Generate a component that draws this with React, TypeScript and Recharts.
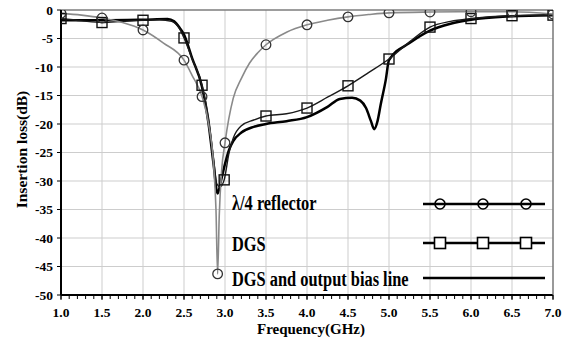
import React from 'react';
import { ComposedChart, Line, Scatter, XAxis, YAxis, CartesianGrid, Label } from 'recharts';

// ---- axis ticks ----
const majorFreqTicks = [1.0, 1.5, 2.0, 2.5, 3.0, 3.5, 4.0, 4.5, 5.0, 5.5, 6.0, 6.5, 7.0];
const xTickLabels = ['1.0', '1.5', '2.0', '2.5', '3.0', '3.5', '4.0', '4.5', '5.0', '5.5', '6.0', '6.5', '7.0'];
const minorFreqTicks = Array.from({ length: 61 }, (_, i) => Math.round(10 + i) / 10);
const lossTicks = [0, -5, -10, -15, -20, -25, -30, -35, -40, -45, -50];
const yTickLabels = ['0', '-5', '-10', '-15', '-20', '-25', '-30', '-35', '-40', '-45', '-50'];

// ---- series: λ/4 reflector ----
const reflectorFreq = [1.0, 1.25, 1.5, 1.75, 2.0, 2.25, 2.5, 2.6, 2.72, 2.8, 2.86, 2.89, 2.91, 2.93, 2.96, 3.0, 3.1, 3.2, 3.3, 3.4, 3.5, 3.75, 4.0, 4.25, 4.5, 4.75, 5.0, 5.5, 6.0, 6.5, 7.0];
const reflectorLoss = [-0.6, -0.9, -1.4, -2.2, -3.5, -5.8, -8.8, -11.5, -15.2, -20, -27, -35, -46.3, -36, -28, -23.3, -15.5, -12, -9.3, -7.5, -6.1, -3.9, -2.6, -1.8, -1.2, -0.8, -0.5, -0.35, -0.3, -0.3, -0.7];
const reflectorMarkFreq = [1.0, 1.5, 2.0, 2.5, 2.72, 2.91, 3.0, 3.5, 4.0, 4.5, 5.0, 5.5, 6.0, 6.5, 7.0];
const reflectorMarkLoss = [-0.6, -1.4, -3.5, -8.8, -15.2, -46.3, -23.3, -6.1, -2.6, -1.2, -0.5, -0.35, -0.3, -0.3, -0.7];

// ---- series: DGS ----
const dgsFreq = [1.0, 1.25, 1.5, 1.75, 2.0, 2.2, 2.35, 2.45, 2.5, 2.6, 2.72, 2.8, 2.86, 2.9, 2.94, 2.99, 3.05, 3.1, 3.2, 3.35, 3.5, 3.75, 4.0, 4.25, 4.5, 4.75, 5.0, 5.25, 5.5, 5.75, 6.0, 6.5, 7.0];
const dgsLoss = [-1.5, -1.9, -2.2, -2.0, -1.8, -1.7, -2.0, -3.4, -4.9, -8.6, -13.2, -19, -26, -30.5, -31, -29.8, -25, -22.5, -20.3, -19.3, -18.6, -18.2, -17.2, -15.3, -13.3, -11, -8.6, -5.6, -3.0, -2.0, -1.5, -1.0, -0.9];
const dgsMarkFreq = [1.0, 1.5, 2.0, 2.5, 2.72, 2.99, 3.5, 4.0, 4.5, 5.0, 5.5, 6.0, 6.5, 7.0];
const dgsMarkLoss = [-1.5, -2.2, -1.8, -4.9, -13.2, -29.8, -18.6, -17.2, -13.3, -8.6, -3.0, -1.5, -1.0, -0.9];

// ---- series: DGS and output bias line ----
const biasFreq = [1.0, 1.5, 2.0, 2.3, 2.38, 2.45, 2.5, 2.6, 2.72, 2.8, 2.86, 2.91, 2.95, 3.0, 3.05, 3.1, 3.2, 3.35, 3.5, 3.75, 4.0, 4.25, 4.4, 4.55, 4.65, 4.72, 4.78, 4.82, 4.86, 4.9, 4.96, 5.0, 5.25, 5.5, 5.75, 6.0, 6.5, 7.0];
const biasLoss = [-1.8, -1.8, -1.7, -1.6, -2.0, -3.2, -4.3, -8.5, -13.5, -20, -27, -32.2, -30, -27, -24.5, -23, -21.5, -20.5, -20, -19.5, -18.8, -17, -15.6, -15.4, -15.9, -17.2, -19.5, -20.9, -19.5, -16.5, -12.3, -8.8, -5.8, -3.6, -2.4, -1.7, -1.1, -0.9];

const legendLabels = ['λ/4 reflector', 'DGS', 'DGS and output bias line'];

const zip = (xs: number[], ys: number[]) => xs.map((x, i) => ({ x, y: ys[i] }));
const reflectorData = zip(reflectorFreq, reflectorLoss);
const reflectorMarks = zip(reflectorMarkFreq, reflectorMarkLoss);
const dgsData = zip(dgsFreq, dgsLoss);
const dgsMarks = zip(dgsMarkFreq, dgsMarkLoss);
const biasData = zip(biasFreq, biasLoss);

const FONT = "'Liberation Serif', 'Times New Roman', serif";
const textStyle = { fontFamily: FONT, fontWeight: 'bold' as const };

const XTick = (props: any) => {
  const { x, y, payload } = props;
  const idx = majorFreqTicks.findIndex((t) => Math.abs(t - payload.value) < 1e-6);
  if (idx < 0) return <g />;
  return (
    <g>
      <line x1={x} x2={x} y1={y - 12} y2={y - 7} stroke="#000" strokeWidth={1} />
      <text x={x} y={y} dy="0.71em" textAnchor="middle" style={{ ...textStyle, fontSize: 13.5 }} fill="#000">
        {xTickLabels[idx]}
      </text>
    </g>
  );
};

const YTick = (props: any) => {
  const { x, y, payload } = props;
  const idx = lossTicks.findIndex((t) => Math.abs(t - payload.value) < 1e-6);
  return (
    <text x={x} y={y} dy="0.35em" textAnchor="end" style={{ ...textStyle, fontSize: 13.5 }} fill="#000">
      {idx >= 0 ? yTickLabels[idx] : ''}
    </text>
  );
};

const XTitle = (props: any) => {
  const vb = props.viewBox || { x: 61, y: 295, width: 492, height: 46 };
  return (
    <text x={vb.x + vb.width / 2 + 4} y={334} textAnchor="middle" style={{ ...textStyle, fontSize: 15 }} fill="#000">
      Frequency(GHz)
    </text>
  );
};

const YTitle = (props: any) => {
  const vb = props.viewBox || { x: 0, y: 10, width: 61, height: 285 };
  const cx = 21;
  const cy = vb.y + vb.height / 2 - 3;
  return (
    <text x={cx} y={cy} transform={`rotate(-90 ${cx} ${cy})`} textAnchor="middle" dominantBaseline="central" style={{ ...textStyle, fontSize: 15.5 }} fill="#000">
      Insertion loss(dB)
    </text>
  );
};

const CircleMark = (props: any) => {
  const { cx, cy } = props;
  if (cx == null || cy == null) return <g />;
  return <circle cx={cx} cy={cy} r={4.8} fill="none" stroke="#333" strokeWidth={1.3} />;
};

const SquareMark = (props: any) => {
  const { cx, cy } = props;
  if (cx == null || cy == null) return <g />;
  return <rect x={cx - 5} y={cy - 5} width={10} height={10} fill="none" stroke="#111" strokeWidth={1.4} />;
};

const LegendOverlay = () => {
  const rows = [204, 243, 278];
  const baselines = [210, 251, 286];
  const markX = [440, 483, 526];
  return (
    <svg width={572} height={341} style={{ position: 'absolute', left: 0, top: 0, pointerEvents: 'none' }}>
      {legendLabels.map((lab, i) => (
        <g key={lab}>
          <text transform={`translate(232 ${baselines[i]}) scale(0.82 1)`} style={{ ...textStyle, fontSize: 20 }} fill="#000">
            {lab}
          </text>
          <line x1={423} x2={545} y1={rows[i]} y2={rows[i]} stroke="#000" strokeWidth={2.6} />
          {i === 0 && markX.map((mx) => <circle key={mx} cx={mx} cy={rows[i]} r={5} fill="none" stroke="#000" strokeWidth={1.6} />)}
          {i === 1 && markX.map((mx) => <rect key={mx} x={mx - 5.5} y={rows[i] - 5.5} width={11} height={11} fill="#fff" stroke="#000" strokeWidth={1.6} />)}
        </g>
      ))}
    </svg>
  );
};

export default function App() {
  return (
    <div style={{ position: 'absolute', left: 0, top: 0, width: 572, height: 341, background: '#fff' }}>
      <ComposedChart width={572} height={341} margin={{ top: 9, right: 18, bottom: 0, left: 0 }}>
        <CartesianGrid stroke="#cdcdcd" strokeWidth={1} verticalValues={majorFreqTicks} horizontalValues={lossTicks} />
        <XAxis
          dataKey="x"
          type="number"
          domain={[1, 7]}
          ticks={minorFreqTicks}
          interval={0}
          allowDataOverflow
          tick={<XTick />}
          tickSize={4}
          tickMargin={8}
          tickLine={{ stroke: '#000', strokeWidth: 1 }}
          axisLine={{ stroke: '#000', strokeWidth: 2 }}
          height={46}
        >
          <Label content={<XTitle />} />
        </XAxis>
        <XAxis xAxisId="top" orientation="top" type="number" domain={[1, 7]} ticks={[1, 7]} tick={false} tickLine={false} axisLine={{ stroke: '#555', strokeWidth: 1.2 }} height={1} />
        <YAxis
          type="number"
          domain={[-50, 0]}
          ticks={lossTicks}
          interval={0}
          allowDataOverflow
          tick={<YTick />}
          tickSize={4}
          tickMargin={4}
          tickLine={{ stroke: '#000', strokeWidth: 1 }}
          axisLine={{ stroke: '#000', strokeWidth: 2 }}
          width={61}
        >
          <Label content={<YTitle />} />
        </YAxis>
        <YAxis yAxisId="right" orientation="right" type="number" domain={[-50, 0]} ticks={[-50, 0]} tick={false} tickLine={false} axisLine={{ stroke: '#666', strokeWidth: 1.2 }} width={1} />
        <Line data={biasData} dataKey="y" type="monotone" stroke="#000" strokeWidth={2.5} dot={false} activeDot={false} isAnimationActive={false} />
        <Line data={dgsData} dataKey="y" type="monotone" stroke="#1a1a1a" strokeWidth={1.4} dot={false} activeDot={false} isAnimationActive={false} />
        <Line data={reflectorData} dataKey="y" type="monotone" stroke="#8a8a8a" strokeWidth={1.6} dot={false} activeDot={false} isAnimationActive={false} />
        <Scatter data={dgsMarks} dataKey="y" shape={<SquareMark />} isAnimationActive={false} />
        <Scatter data={reflectorMarks} dataKey="y" shape={<CircleMark />} isAnimationActive={false} />
      </ComposedChart>
      <LegendOverlay />
    </div>
  );
}
